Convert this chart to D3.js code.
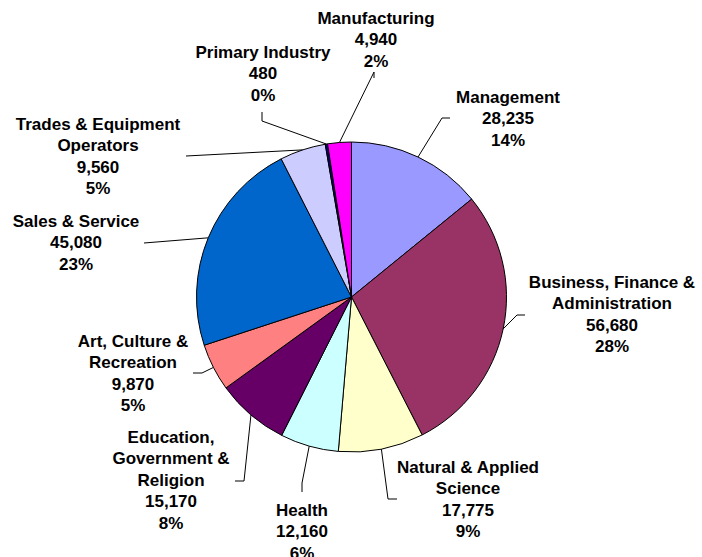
<!DOCTYPE html>
<html>
<head>
<meta charset="utf-8">
<script src="https://cdn.jsdelivr.net/npm/d3@7"></script>
<style>
  body { margin: 0; background: #fff; }
  text { font-family: "Liberation Sans", Arial, sans-serif; font-weight: bold; font-size: 17px; fill: #000; }
</style>
</head>
<body>
<div id="chart-area"></div>
<script>
// Data, clockwise from 12 o'clock
let categories = ["Management", "Business, Finance &\nAdministration", "Natural & Applied\nScience", "Health",
    "Education,\nGovernment &\nReligion", "Art, Culture &\nRecreation", "Sales & Service",
    "Trades & Equipment\nOperators", "Primary Industry", "Manufacturing"];
let values = [28235, 56680, 17775, 12160, 15170, 9870, 45080, 9560, 480, 4940];
let colors = ["#9999FF", "#993366", "#FFFFCC", "#CCFFFF", "#660066", "#FF8080", "#0066CC", "#CCCCFF", "#000080", "#FF00FF"];

// Label layout: block centre x, first line centre y, leader start and elbow
let labelX = [508, 612, 468, 302, 171, 133, 76, 98, 263, 376];
let labelY = [97, 282, 467, 510, 437, 341, 221, 124, 52, 18];
let leaderStart = [[450, 118], [525, 315], [397, 499], [302, 492], [235, 481], [193, 373], [144, 243], [186, 156], [262, 112], [374, 78]];
let leaderElbow = [[442, 118], [517, 315], [388, 499], [302, 483], [244, 481], [202, 373], [144, 243], [186, 156], [262, 121], [374, 72]];

let width = 702, height = 557;
let cx = 351.5, cy = 297, radius = 155;
let lineH = 21.5;

let svg = d3.select("#chart-area").append("svg")
    .attr("width", width)
    .attr("height", height);

let data = categories.map((c, i) => ({name: c, value: values[i], color: colors[i], i: i}));
let total = d3.sum(values);

let pie = d3.pie().sort(null).value(d => d.value);
let arc = d3.arc().innerRadius(0).outerRadius(radius);
let edgeArc = d3.arc().innerRadius(radius).outerRadius(radius);

let g = svg.append("g")
    .attr("transform", "translate(" + cx + "," + cy + ")");

let arcs = pie(data);

g.selectAll(".slice")
    .data(arcs)
    .enter()
    .append("path")
    .attr("class", "slice")
    .attr("d", arc)
    .attr("fill", d => d.data.color)
    .attr("stroke", "#000")
    .attr("stroke-width", 1)
    .attr("stroke-linejoin", "round");

// Leader lines
let line = d3.line();
svg.selectAll(".leader")
    .data(arcs)
    .enter()
    .append("path")
    .attr("class", "leader")
    .attr("fill", "none")
    .attr("stroke", "#000")
    .attr("stroke-width", 1)
    .attr("d", d => {
        let e = edgeArc.centroid(d);
        let i = d.data.i;
        return line([leaderStart[i], leaderElbow[i], [cx + e[0], cy + e[1]]]);
    });

// Labels
let fmt = d3.format(",");
let pct = d3.format(".0%");

svg.selectAll(".label")
    .data(arcs)
    .enter()
    .append("text")
    .attr("class", "label")
    .attr("text-anchor", "middle")
    .each(function(d) {
        let i = d.data.i;
        let lines = d.data.name.split("\n").concat([fmt(d.data.value), pct(d.data.value / total)]);
        d3.select(this).selectAll("tspan")
            .data(lines)
            .enter()
            .append("tspan")
            .attr("x", labelX[i])
            .attr("y", (t, k) => labelY[i] + k * lineH)
            .attr("dy", "0.35em")
            .text(t => t);
    });
</script>
</body>
</html>
